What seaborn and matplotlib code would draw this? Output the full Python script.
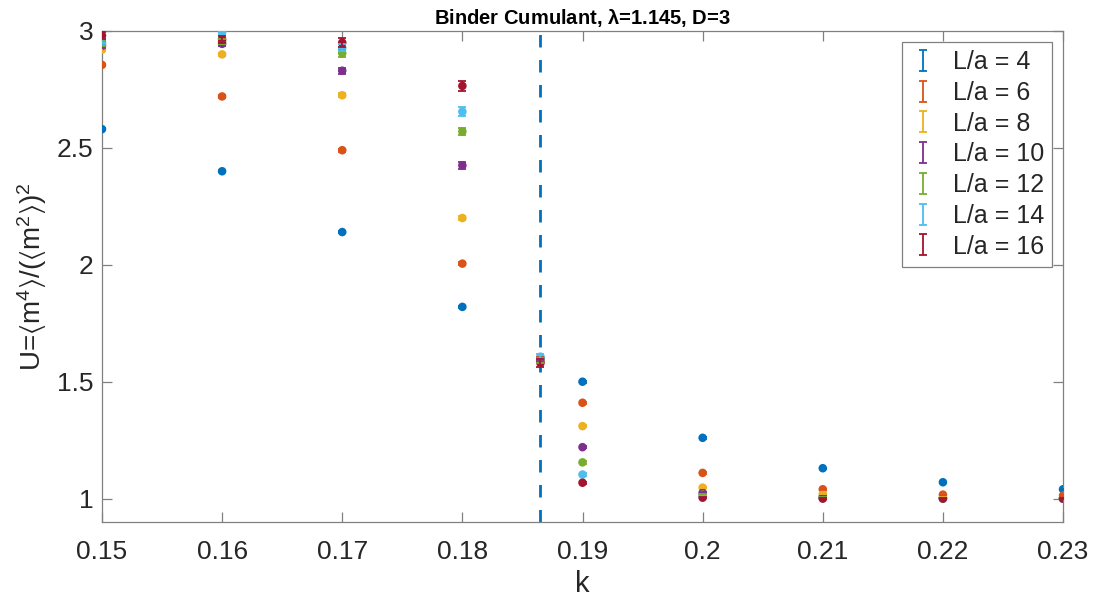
import numpy as np
import pandas as pd
import matplotlib
matplotlib.use("Agg")
import matplotlib.pyplot as plt
import seaborn as sns
from matplotlib.legend_handler import HandlerErrorbar

# ---------------- data ----------------
k_values = [0.15, 0.16, 0.17, 0.18, 0.1865, 0.19, 0.20, 0.21, 0.22, 0.23]
sizes = [4, 6, 8, 10, 12, 14, 16]

U_L4 = [2.58, 2.40, 2.14, 1.82, 1.60, 1.50, 1.26, 1.13, 1.07, 1.04]
U_L6 = [2.855, 2.72, 2.49, 2.005, 1.60, 1.41, 1.11, 1.04, 1.017, 1.013]
U_L8 = [2.92, 2.90, 2.725, 2.20, 1.595, 1.31, 1.047, 1.02, 1.005, 1.002]
U_L10 = [2.936, 2.945, 2.83, 2.425, 1.595, 1.22, 1.025, 1.008, 1.002, 1.0]
U_L12 = [2.945, 2.955, 2.905, 2.57, 1.59, 1.155, 1.017, 1.004, 1.001, 1.0]
U_L14 = [2.955, 2.995, 2.928, 2.655, 1.607, 1.103, 1.01, 1.002, 1.0, 1.0]
U_L16 = [2.98, 2.965, 2.95, 2.765, 1.58, 1.068, 1.004, 1.0, 1.0, 1.0]

E_L4 = [0.004, 0.004, 0.004, 0.005, 0.004, 0.004, 0.003, 0.002, 0.002, 0.002]
E_L6 = [0.005, 0.005, 0.006, 0.007, 0.005, 0.004, 0.003, 0.002, 0.002, 0.002]
E_L8 = [0.006, 0.007, 0.008, 0.010, 0.006, 0.005, 0.003, 0.002, 0.001, 0.001]
E_L10 = [0.008, 0.008, 0.012, 0.015, 0.008, 0.005, 0.003, 0.002, 0.001, 0.001]
E_L12 = [0.010, 0.010, 0.015, 0.017, 0.010, 0.005, 0.003, 0.001, 0.001, 0.001]
E_L14 = [0.012, 0.012, 0.015, 0.018, 0.010, 0.005, 0.003, 0.001, 0.001, 0.001]
E_L16 = [0.015, 0.015, 0.018, 0.020, 0.015, 0.005, 0.003, 0.001, 0.001, 0.001]

k_critical = 0.1865

x_ticks = [0.15, 0.16, 0.17, 0.18, 0.19, 0.20, 0.21, 0.22, 0.23]
x_tick_labels = ["0.15", "0.16", "0.17", "0.18", "0.19", "0.2", "0.21", "0.22", "0.23"]
y_ticks = [1, 1.5, 2, 2.5, 3]
y_tick_labels = ["1", "1.5", "2", "2.5", "3"]

colors = ["#0072BD", "#D95319", "#EDB120", "#7E2F8E", "#77AC30", "#4DBEEE", "#A2142F"]

U_all = [U_L4, U_L6, U_L8, U_L10, U_L12, U_L14, U_L16]
E_all = [E_L4, E_L6, E_L8, E_L10, E_L12, E_L14, E_L16]

rows = []
for L, U, E in zip(sizes, U_all, E_all):
    for kk, u, e in zip(k_values, U, E):
        rows.append({"k": kk, "U": u, "err": e, "L": f"L/a = {L}"})
df = pd.DataFrame(rows)
labels = [f"L/a = {L}" for L in sizes]

# ---------------- style ----------------
sns.set_theme(style="white")
plt.rcParams["font.family"] = ["Liberation Sans", "DejaVu Sans"]
plt.rcParams["mathtext.fontset"] = "custom"
plt.rcParams["mathtext.rm"] = "Liberation Sans"
plt.rcParams["mathtext.it"] = "Liberation Sans:italic"
plt.rcParams["mathtext.bf"] = "Liberation Sans:bold"

fig = plt.figure(figsize=(11, 6.05), dpi=100)
ax = fig.add_axes([0.0927, 0.1372, 0.8737, 0.8116])

palette = dict(zip(labels, colors))
sns.scatterplot(data=df, x="k", y="U", hue="L", palette=palette, hue_order=labels,
                s=38, marker="o", edgecolor="none", linewidth=0, legend=False,
                ax=ax, zorder=3)

handles = []
for lab, col in zip(labels, colors):
    sub = df[df["L"] == lab]
    h = ax.errorbar(sub["k"], sub["U"], yerr=sub["err"], fmt="none", ecolor=col,
                    elinewidth=1.3, capsize=2.6, capthick=1.3, label=lab, zorder=4)
    handles.append(h)

ax.axvline(k_critical, color="#0072BD", lw=2, linestyle=(0, (4.5, 4.5)), zorder=2)

ax.set_xlim(0.15, 0.23)
ax.set_ylim(0.9, 3.0)
ax.set_xticks(x_ticks)
ax.set_xticklabels(x_tick_labels)
ax.set_yticks(y_ticks)
ax.set_yticklabels(y_tick_labels)

for sp in ax.spines.values():
    sp.set_color("#808080")
    sp.set_linewidth(0.9)
    sp.set_visible(True)

ax.tick_params(axis="both", which="major", direction="in", length=7, width=0.9,
               color="#808080", labelsize=19, labelcolor="#262626",
               top=True, right=True, bottom=True, left=True)
ax.tick_params(axis="x", pad=13)
ax.tick_params(axis="y", pad=6)

ax.set_xlabel("k", fontsize=21, color="#262626", labelpad=4)
ax.set_ylabel(r"U=$\mathregular{\langle m^4\rangle/(\langle m^2\rangle)^2}$",
              fontsize=20, color="#262626", labelpad=6)
ax.set_title(r"Binder Cumulant, $\mathregular{\lambda}$=1.145, D=3",
             fontsize=14.5, fontweight="bold", color="#000000", pad=5)

leg = ax.legend(handles=handles, labels=labels, loc="upper right", fontsize=18,
                frameon=True, fancybox=False, framealpha=1, edgecolor="#808080",
                borderaxespad=0.45, labelspacing=0.27, handlelength=1.0,
                handletextpad=0.7, borderpad=0.32,
                handler_map={type(handles[0]): HandlerErrorbar(xerr_size=0.3, yerr_size=0.42)})
leg.get_frame().set_linewidth(0.9)
for lh in leg.legend_handles:
    for child in lh.get_children():
        child.set_linewidth(2.0)

fig.savefig("out.png", dpi=100, facecolor="white")
